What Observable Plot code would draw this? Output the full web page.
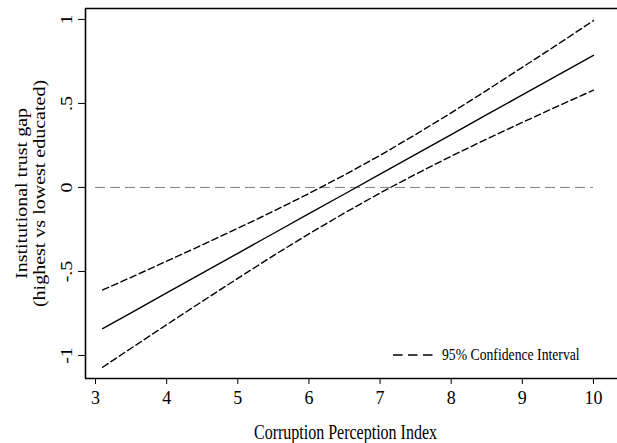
<!DOCTYPE html>
<html><head><meta charset="utf-8">
<script src="https://cdn.jsdelivr.net/npm/d3@7"></script>
<script src="https://cdn.jsdelivr.net/npm/@observablehq/plot@0.6"></script>
<style>body{margin:0;background:#fff}</style>
</head><body><div id="chart"></div>
<script>
// Corruption Perception Index (x) and estimated institutional trust gap (y)
const cpi    = [3.1, 3.5, 4, 4.5, 5, 5.5, 6, 6.5, 7, 7.5, 8, 8.5, 9, 9.5, 10];
const fitted = [-0.840, -0.746, -0.628, -0.510, -0.392, -0.274, -0.156, -0.039, 0.079, 0.197, 0.315, 0.433, 0.551, 0.668, 0.786];
const upper  = [-0.610, -0.535, -0.439, -0.342, -0.243, -0.142, -0.036, 0.074, 0.191, 0.315, 0.444, 0.578, 0.715, 0.852, 0.993];
const lower  = [-1.070, -0.957, -0.817, -0.678, -0.541, -0.406, -0.276, -0.152, -0.033, 0.079, 0.186, 0.288, 0.387, 0.484, 0.579];

const xTicks = [3, 4, 5, 6, 7, 8, 9, 10];
const yTicks = [1, 0.5, 0, -0.5, -1];
const yTickLabels = ["1", ".5", "0", "-.5", "-1"];
const refLineY = [0];
const refLineSpan = [3, 10];
const xTitle = "Corruption Perception Index";
const yTitle = ["Institutional trust gap", "(highest vs lowest educated)"];
const legendLabel = "95% Confidence Interval";

const xDomain = [2.859, 10.338];
const yDomain = [-1.137, 1.065];

const rows = cpi.map((x, i) => ({x, fit: fitted[i], hi: upper[i], lo: lower[i]}));

function legendMark(index, scales, values, dims) {
  const right = dims.width - dims.marginRight;
  const bottom = dims.height - dims.marginBottom;
  const y = bottom - 23;
  const g = d3.create("svg:g").attr("class", "legend");
  g.append("line")
    .attr("x1", right - 224).attr("x2", right - 184)
    .attr("y1", y).attr("y2", y)
    .attr("stroke", "#000").attr("stroke-width", 1.3)
    .attr("stroke-dasharray", "9.5,5.5");
  g.append("text")
    .attr("transform", `translate(${right - 175},${y}) scale(1,1.2)`)
    .attr("dy", "0.32em")
    .attr("text-anchor", "start")
    .attr("font-size", 13.7)
    .attr("fill", "#000")
    .text(legendLabel);
  return g.node();
}

const chart = Plot.plot({
  width: 617,
  height: 443,
  marginLeft: 85,
  marginRight: 0,
  marginTop: 8,
  marginBottom: 65,
  style: {fontFamily: "'Liberation Serif', 'Times New Roman', serif", fontSize: "16px", background: "#fff", color: "#000"},
  x: {domain: xDomain},
  y: {domain: yDomain},
  marks: [
    Plot.ruleY(refLineY, {x1: refLineSpan[0], x2: refLineSpan[1], stroke: "#808080", strokeWidth: 1, strokeDasharray: "10,5"}),
    Plot.line(rows, {x: "x", y: "hi", stroke: "#000", strokeWidth: 1.4, strokeDasharray: "6.5,3.5"}),
    Plot.line(rows, {x: "x", y: "lo", stroke: "#000", strokeWidth: 1.4, strokeDasharray: "6.5,3.5"}),
    Plot.line(rows, {x: "x", y: "fit", stroke: "#000", strokeWidth: 1.4}),
    Plot.ruleX([xDomain[0]], {stroke: "#000", strokeWidth: 1.6}),
    Plot.ruleY(yDomain, {stroke: "#000", strokeWidth: 1.6}),
    Plot.axisX({ticks: xTicks, tickSize: 6, tickPadding: 5, label: null, fontSize: 18, tickFormat: d => String(d)}),
    Plot.axisY({ticks: yTicks, tickSize: 7, label: null, tickFormat: () => ""}),
    Plot.text(yTicks, {y: d => d, text: (d, i) => yTickLabels[i], frameAnchor: "left", dx: -14, rotate: -90, textAnchor: "middle", lineAnchor: "bottom"}),
    Plot.text([yTitle.join("\n")], {frameAnchor: "left", dx: -55, rotate: -90, textAnchor: "middle", lineAnchor: "middle", lineHeight: 1.1}),
    Plot.text([xTitle], {frameAnchor: "bottom", dy: 54, dx: -6, textAnchor: "middle", lineAnchor: "middle"}),
    legendMark
  ]
});

d3.select(chart).selectAll("text").each(function() {
  if (this.closest(".legend")) return;
  const t = this.getAttribute("transform");
  if (t == null) return;
  const isXTick = this.closest('[aria-label="x-axis tick label"]') != null;
  const s = isXTick ? 1.1 : 1.25;
  this.setAttribute("transform", t + (t.includes("rotate") ? ` scale(${s},1)` : ` scale(1,${s})`));
});

document.getElementById("chart").appendChild(chart);
</script>
</body></html>
